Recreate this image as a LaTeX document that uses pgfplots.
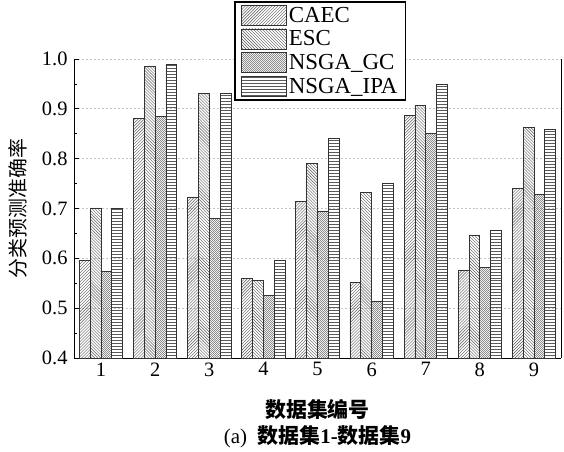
\documentclass[border=0pt]{standalone}
\usepackage{fontspec}
\setmainfont{Liberation Serif}
\newfontfamily\cjk{Noto Sans CJK SC}
\usepackage{pgfplots}
\pgfplotsset{compat=1.18}
\usetikzlibrary{patterns}
\pgfdeclarepatternformonly{densedots}{\pgfpointorigin}{\pgfqpoint{2.4pt}{2.4pt}}{\pgfqpoint{2.4pt}{2.4pt}}{%
  \pgfpathrectangle{\pgfpointorigin}{\pgfqpoint{1.2pt}{1.2pt}}%
  \pgfpathrectangle{\pgfqpoint{1.2pt}{1.2pt}}{\pgfqpoint{1.2pt}{1.2pt}}%
  \pgfusepath{fill}}
\begin{document}
\begin{tikzpicture}
\begin{axis}[
  scale only axis,
  width=487bp, height=299bp,
  xmin=0.5, xmax=9.5,
  ymin=0.4, ymax=1.0,
  ybar=0pt, bar width=0.2,
  axis x line=bottom, axis y line=box,
  ytick pos=left,
  xtick={1,...,9},
  ytick={0.4,0.5,...,1.0},
  minor y tick num=1,
  tick align=inside,
  major tick length=5bp, minor tick length=3bp,
  x tick style={draw=none},
  y tick style={black, line width=0.8pt},
  axis line style={black, line width=0.9pt, -},
  ymajorgrids,
  grid style={dash pattern=on 2pt off 2pt, gray!45, line width=0.7pt},
  yticklabel style={/pgf/number format/fixed, /pgf/number format/precision=1, /pgf/number format/fixed zerofill},
  /pgf/number format/assume math mode=true,
  tick label style={font=\fontsize{20.5}{23}\selectfont},
  yticklabel style={xshift=-3bp},
  xticklabel style={yshift=-1bp},
  xlabel={\cjk\bfseries 数据集编号},
  ylabel={\cjk 分类预测准确率},
  xlabel style={font=\fontsize{21}{23}\selectfont, at={(rel axis cs:0.5,0)}, anchor=center, yshift=-52bp},
  ylabel style={font=\fontsize{20}{22}\selectfont, at={(rel axis cs:0,0.5)}, anchor=center, yshift=56bp},
  clip=false,
  legend style={at={(0.329,1.194)}, anchor=north west, draw=black, line width=1.6pt,
    font=\fontsize{23}{25}\selectfont, row sep=3bp, inner xsep=6bp, inner ysep=3bp,
    /tikz/every even column/.append style={column sep=3bp}},
  legend cell align=left,
  legend image code/.code={\draw[#1, line width=0.8pt] (0bp,-10bp) rectangle (45bp,10bp);},
  every axis plot/.append style={draw=black!80, line width=0.8pt, fill=white},
]
\addplot[pattern=north east lines, pattern color=black!65] coordinates {
 (1,0.595) (2,0.880) (3,0.722) (4,0.559) (5,0.715) (6,0.551) (7,0.887) (8,0.575) (9,0.741)};
\addplot[pattern=north west lines, pattern color=black!65] coordinates {
 (1,0.701) (2,0.985) (3,0.931) (4,0.556) (5,0.790) (6,0.733) (7,0.907) (8,0.647) (9,0.863)};
\addplot[pattern=densedots, pattern color=black!45] coordinates {
 (1,0.573) (2,0.885) (3,0.680) (4,0.525) (5,0.695) (6,0.514) (7,0.850) (8,0.581) (9,0.729)};
\addplot[pattern=horizontal lines, pattern color=black!65] coordinates {
 (1,0.700) (2,0.990) (3,0.930) (4,0.595) (5,0.840) (6,0.751) (7,0.949) (8,0.657) (9,0.859)};
\legend{CAEC, ESC, NSGA\_GC, NSGA\_IPA}
\node[font=\fontsize{21}{23}\selectfont, anchor=center] at (rel axis cs:0.5,0) [yshift=-79bp] {(a)\hspace{0.5em}{\cjk\bfseries 数据集}\textbf{1-}{\cjk\bfseries 数据集}\textbf{9}};
\coordinate (sw) at (rel axis cs:0,0);
\coordinate (ne) at (rel axis cs:1,1);
\end{axis}
\path (sw)+(-74bp,-93bp) (ne)+(3bp,59bp);
\end{tikzpicture}
\end{document}
